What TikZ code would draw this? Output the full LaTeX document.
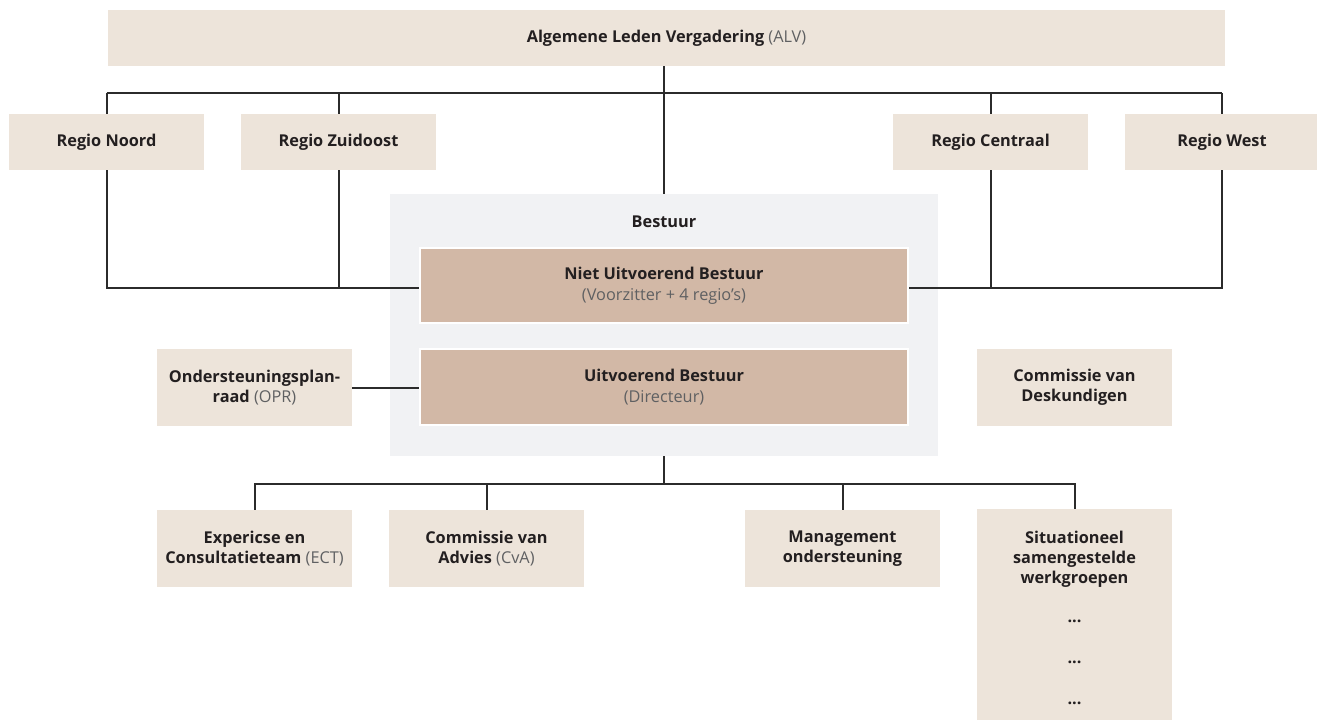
\documentclass[tikz,border=0pt]{standalone}
\usepackage{fontspec}
\setmainfont{Open Sans}
\definecolor{beige}{HTML}{EDE4DA}
\definecolor{tan}{HTML}{D2B8A6}
\definecolor{bestgray}{HTML}{F1F2F4}
\definecolor{linec}{HTML}{2B2B2B}
\definecolor{txt}{HTML}{231F20}
\definecolor{subc}{HTML}{5F6062}
\pgfdeclarelayer{bgl}
\pgfdeclarelayer{linel}
\pgfsetlayers{bgl,linel,main}
\newcommand{\sub}[1]{{\mdseries\color{subc}#1}}
\begin{document}
\begin{tikzpicture}[x=1pt,y=-1pt,
  font=\fontsize{16.3}{20}\selectfont\bfseries,
  box/.style={fill=beige, text=txt, inner sep=0pt, align=center, minimum width=195pt, minimum height=56pt},
  tallbox/.style={box, minimum height=77pt},
  tanbox/.style={fill=tan, draw=white, line width=2pt, text=txt, inner sep=0pt, align=center, minimum width=488pt},
  conn/.style={draw=linec, line width=2pt},
  plain/.style={inner sep=0pt, text=txt, align=center}]
\useasboundingbox (0,0) rectangle (1317,720);

% Bestuur background
\begin{pgfonlayer}{bgl}
\node[fill=bestgray, inner sep=0pt, minimum width=548pt, minimum height=262pt] (bestuur) at (664,325) {};
\end{pgfonlayer}
\node[plain] (bestlabel) at (664,222) {Bestuur};

% top
\node[box, minimum width=1117pt] (alv) at (666.5,38) {Algemene Leden Vergadering \sub{(ALV)}};
\node[box] (rn) at (106.5,142) {Regio Noord};
\node[box] (rz) at (338.5,142) {Regio Zuidoost};
\node[box] (rc) at (990.5,142) {Regio Centraal};
\node[box] (rw) at (1222,142) {Regio West};

% Bestuur inner
\node[tanbox, minimum height=75pt] (nub) at (664,285.5) {Niet Uitvoerend Bestuur\\[1pt]\sub{(Voorzitter + 4 regio's)}};
\node[tanbox, minimum height=76pt] (ub) at (664,387) {Uitvoerend Bestuur\\[1pt]\sub{(Directeur)}};

% side
\node[tallbox] (opr) at (254.5,387.5) {Ondersteuningsplan-\\raad \sub{(OPR)}};
\node[tallbox] (cvd) at (1074.5,387.5) {Commissie van\\Deskundigen};

% bottom
\node[tallbox] (ect) at (254.5,548.5) {Expericse en\\Consultatieteam \sub{(ECT)}};
\node[tallbox] (cva) at (486.5,548.5) {Commissie van\\Advies \sub{(CvA)}};
\node[tallbox] (mg) at (842.5,548.5) {Management\\ondersteuning};
\node[box, minimum height=213pt, anchor=north] (sit) at (1074.5,509) {};
\node[plain] (sittext) at (1074.5,559) {Situationeel\\samengestelde\\werkgroepen};
\node[plain] (d1) at (1074.5,621) {...};
\node[plain] (d2) at (1074.5,662) {...};
\node[plain] (d3) at (1074.5,703) {...};

\coordinate (tb) at (664,93);
\coordinate (bb) at (664,484);
\coordinate (nl) at ([yshift=-2.5pt]nub.west);
\coordinate (nr) at ([yshift=-2.5pt]nub.east);

\begin{pgfonlayer}{linel}
\draw[conn] (bestuur.north |- alv.south) -- (bestuur.north);
\draw[conn] (rn.center |- tb) -- (rw.center |- tb);
\draw[conn] (rn.center |- tb) -- (rn.center |- nl) -- (nl);
\draw[conn] (rz.center |- tb) -- (rz.center |- nl);
\draw[conn] (rw.center |- tb) -- (rw.center |- nr) -- (nr);
\draw[conn] (rc.center |- tb) -- (rc.center |- nr);
\draw[conn] (opr.east) -- (opr.east -| ub.west);
\draw[conn] (bestuur.south) -- (bb);
\draw[conn] (ect.north) -- (ect.north |- bb) -- (sit.north |- bb) -- (sit.north);
\draw[conn] (cva.north) -- (cva.north |- bb);
\draw[conn] (mg.north) -- (mg.north |- bb);
\end{pgfonlayer}
\end{tikzpicture}
\end{document}
